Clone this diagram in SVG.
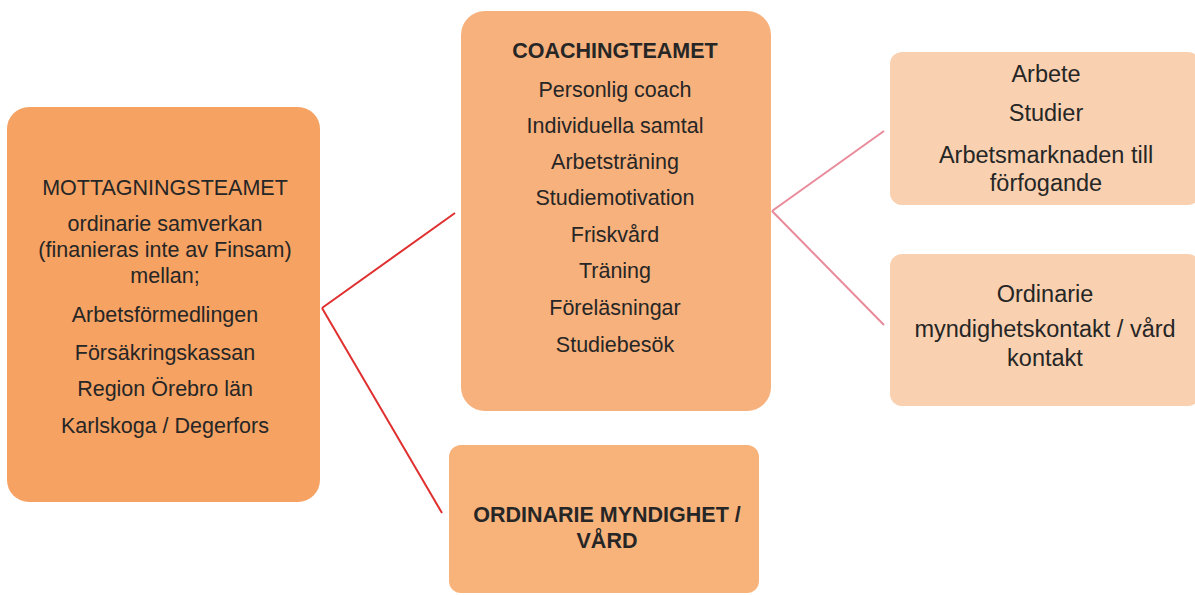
<svg xmlns="http://www.w3.org/2000/svg" width="1195" height="595" viewBox="0 0 1195 595">
<style>
.t{font-family:"Liberation Sans",Arial,sans-serif;fill:#262626;text-anchor:middle}
.l{font-size:21.5px}
.m{font-size:21.5px}
.o{font-size:21.5px;font-weight:bold}
.r{font-size:23.5px}
.b{font-weight:bold}
.c1{stroke:#e02f2f;stroke-width:2;fill:none}
.c2{stroke:#e98a9a;stroke-width:2;fill:none}
</style>
<rect width="1195" height="595" fill="#ffffff"/>
<g id="connectors">
<line class="c1" x1="322" y1="308" x2="455" y2="213"/>
<line class="c1" x1="322" y1="308" x2="442" y2="513"/>
<line class="c2" x1="772" y1="211" x2="884" y2="131"/>
<line class="c2" x1="772" y1="211" x2="884" y2="325"/>
</g>
<g id="mottagning">
<rect x="7" y="107" width="313" height="395" rx="22" fill="#f5a263"/>
<text class="t l" x="165" y="195">MOTTAGNINGSTEAMET</text>
<text class="t l" x="165" y="231">ordinarie samverkan</text>
<text class="t l" x="165" y="257">(finanieras inte av Finsam)</text>
<text class="t l" x="165" y="283">mellan;</text>
<text class="t l" x="165" y="322">Arbetsförmedlingen</text>
<text class="t l" x="165" y="360">Försäkringskassan</text>
<text class="t l" x="165" y="396">Region Örebro län</text>
<text class="t l" x="165" y="433">Karlskoga / Degerfors</text>
</g>
<g id="coaching">
<rect x="461" y="11" width="310" height="400" rx="24" fill="#f7b17c"/>
<text class="t m b" x="615" y="58">COACHINGTEAMET</text>
<text class="t m" x="615" y="97">Personlig coach</text>
<text class="t m" x="615" y="133">Individuella samtal</text>
<text class="t m" x="615" y="169">Arbetsträning</text>
<text class="t m" x="615" y="205">Studiemotivation</text>
<text class="t m" x="615" y="242">Friskvård</text>
<text class="t m" x="615" y="278">Träning</text>
<text class="t m" x="615" y="315">Föreläsningar</text>
<text class="t m" x="615" y="352">Studiebesök</text>
</g>
<g id="ordinarie">
<rect x="449" y="445" width="310" height="148" rx="12" fill="#f8b37b"/>
<text class="t o" x="607" y="522">ORDINARIE MYNDIGHET /</text>
<text class="t o" x="607" y="548">VÅRD</text>
</g>
<g id="arbete">
<rect x="890" y="52" width="310" height="153" rx="12" fill="#fad1b0"/>
<text class="t r" x="1046" y="82">Arbete</text>
<text class="t r" x="1046" y="121">Studier</text>
<text class="t r" x="1046" y="163">Arbetsmarknaden till</text>
<text class="t r" x="1046" y="191">förfogande</text>
</g>
<g id="myndighet">
<rect x="890" y="254" width="310" height="152" rx="12" fill="#fad1b0"/>
<text class="t r" x="1045" y="302">Ordinarie</text>
<text class="t r" x="1045" y="337">myndighetskontakt / vård</text>
<text class="t r" x="1045" y="366">kontakt</text>
</g>
</svg>
